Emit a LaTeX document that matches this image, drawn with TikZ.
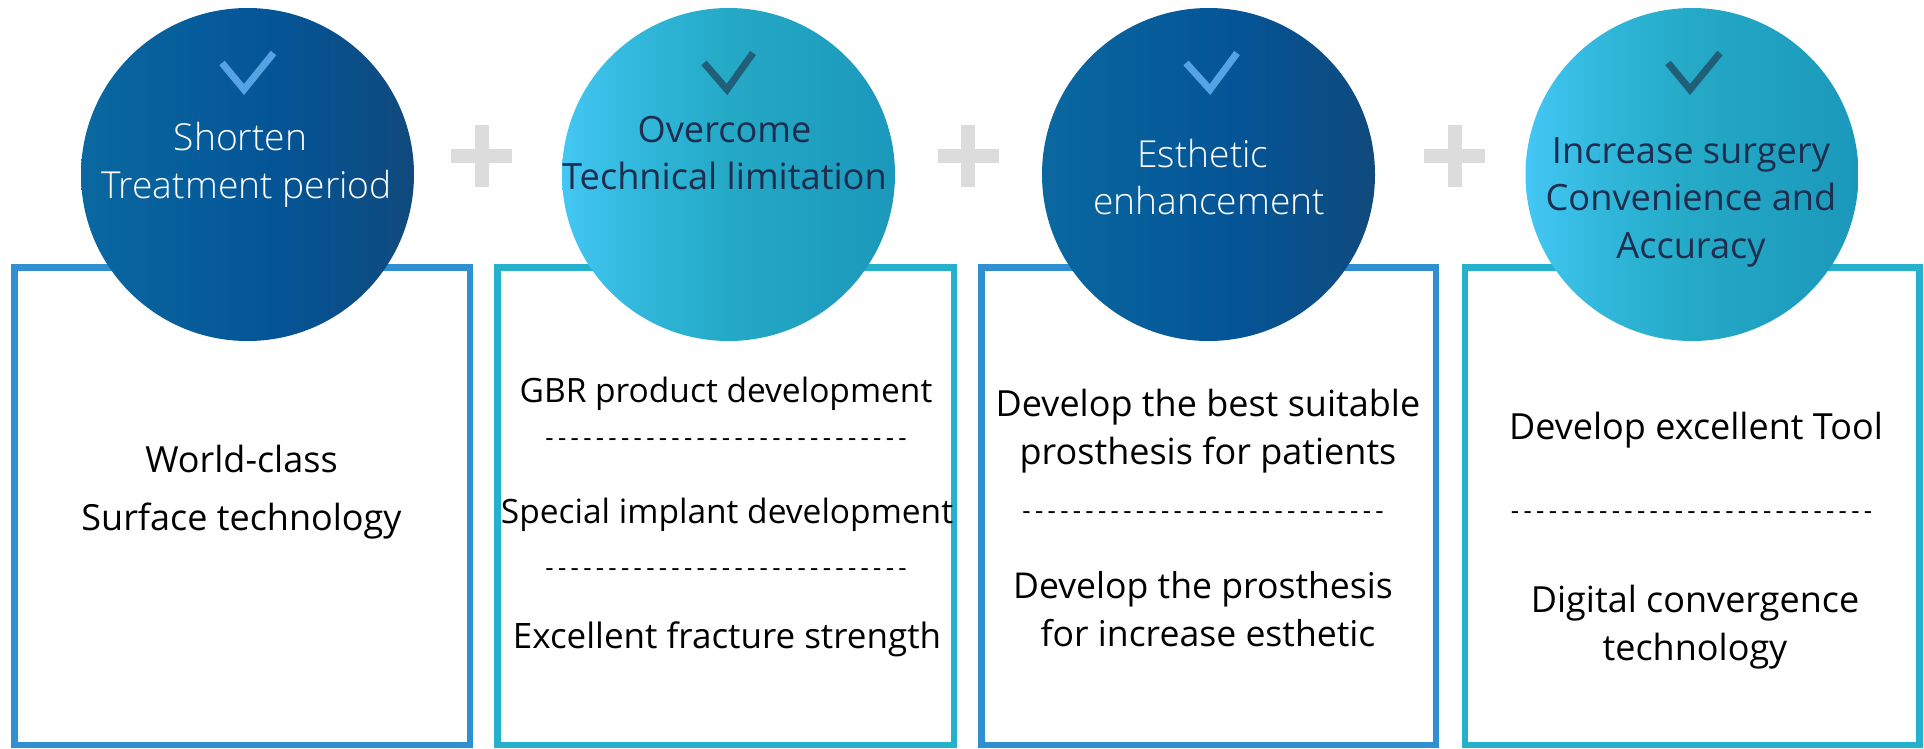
\documentclass[tikz,border=0pt]{standalone}
\usepackage{fontspec}
\setmainfont{Open Sans}
\newfontfamily\lightfont{Open Sans Light}
\usetikzlibrary{shapes.geometric}
\definecolor{boxblue}{HTML}{2F8FD0}
\definecolor{boxteal}{HTML}{25B1CC}
\definecolor{navytext}{HTML}{1F2D4F}
\definecolor{plusgrey}{HTML}{DCDCDC}
\definecolor{checklight}{HTML}{55A3E3}
\definecolor{checkdark}{HTML}{215E78}
\definecolor{db1}{HTML}{0A68A0}
\definecolor{db2}{HTML}{07609C}
\definecolor{db3}{HTML}{045496}
\definecolor{db4}{HTML}{104A7C}
\definecolor{dt1}{HTML}{44C7F4}
\definecolor{dt2}{HTML}{30B7DA}
\definecolor{dt3}{HTML}{24A9C6}
\definecolor{dt4}{HTML}{1B98BB}
\pgfdeclarehorizontalshading{discblueshade}{100bp}{color(0bp)=(db1); color(25bp)=(db1); color(37bp)=(db2); color(55bp)=(db3); color(75bp)=(db4); color(100bp)=(db4)}
\pgfdeclarehorizontalshading{disctealshade}{100bp}{color(0bp)=(dt1); color(25bp)=(dt1); color(37bp)=(dt2); color(50bp)=(dt3); color(75bp)=(dt4); color(100bp)=(dt4)}
\tikzset{
  panelblue/.style={draw=boxblue,line width=6.5pt,fill=white,inner sep=0pt,minimum height=477.5pt},
  panelteal/.style={draw=boxteal,line width=6.5pt,fill=white,inner sep=0pt,minimum height=477.5pt},
  discblue/.style={circle,inner sep=0pt,minimum size=333pt,shade,shading=discblueshade},
  discteal/.style={circle,inner sep=0pt,minimum size=333pt,shade,shading=disctealshade},
  checkmark/.style={line width=7pt,miter limit=10,line join=miter},
  plusbar/.style={fill=plusgrey,inner sep=0pt},
  plush/.style={plusbar,minimum width=61pt,minimum height=14pt},
  plusv/.style={plusbar,minimum width=14pt,minimum height=62pt},
  headwhite/.style={align=center,inner sep=0pt,text=white,font=\lightfont\fontsize{37.2}{47.5}\selectfont},
  headnavy/.style={align=center,inner sep=0pt,text=navytext,font=\fontsize{36.2}{47.5}\selectfont},
  bodytext/.style={align=center,inner sep=0pt,font=\fontsize{36}{48.5}\selectfont,text=black},
  bodynarrow/.style={align=center,inner sep=0pt,font=\fontsize{33.5}{47.5}\selectfont,text=black},
  dashtext/.style={inner sep=0pt,font=\fontsize{25.8}{28}\selectfont,text=black}
}
\newcommand{\dashline}{-\,-\,-\,-\,-\,-\,-\,-\,-\,-\,-\,-\,-\,-\,-\,-\,-\,-\,-\,-\,-\,-\,-\,-\,-\,-\,-\,-\,-}
\begin{document}
\begin{tikzpicture}[x=1pt,y=-1pt]
\useasboundingbox (0,0) rectangle (1924,748);
\fill[white] (0,0) rectangle (1924,748);
% panels
\node[panelblue,minimum width=455.5pt] (p1) at (242,506) {};
\node[panelteal,minimum width=456.5pt] (p2) at (725.5,506) {};
\node[panelblue,minimum width=454.5pt] (p3) at (1208.5,506) {};
\node[panelteal,minimum width=454.5pt] (p4) at (1692,506) {};
% discs
\node[discblue] (c1) at (247.5,174.5) {};
\node[discteal] (c2) at (728.5,174.5) {};
\node[discblue] (c3) at (1208.5,174.5) {};
\node[discteal] (c4) at (1692,174.5) {};
% checks
\draw[checkmark,checklight] (222,63) -- (244,89.5) -- (273.5,53);
\draw[checkmark,checkdark] (704,63) -- (727,89.5) -- (753,53);
\draw[checkmark,checklight] (1186,63) -- (1210,89.5) -- (1237,53);
\draw[checkmark,checkdark] (1668,63) -- (1690,89.5) -- (1720,53);
% plus
\node[plush] (pl1h) at (481.5,156) {};
\node[plusv] (pl1v) at (481.5,156) {};
\node[plush] (pl2h) at (968,156) {};
\node[plusv] (pl2v) at (968,156) {};
\node[plush] (pl3h) at (1454.5,156) {};
\node[plusv] (pl3v) at (1454.5,156) {};
% heads
\node[headwhite] (h1) at (246.5,165) {Shorten\hspace*{12pt}\\Treatment period};
\node[headnavy] (h2) at (724.5,153) {Overcome\\Technical limitation};
\node[headwhite] (h3) at (1209,177) {Esthetic\hspace*{12pt}\\enhancement};
\node[headnavy] (h4) at (1691,202) {Increase surgery\\Convenience and\\Accuracy};
% bodies
\node[bodytext,font=\fontsize{36}{58}\selectfont] (b1) at (241.5,492) {World-class\\Surface technology};
\node[bodynarrow] (b21) at (726,394) {GBR product development};
\node[dashtext] (d21) at (726,443) {\dashline};
\node[bodynarrow] (b22) at (727,515) {Special implant development};
\node[dashtext] (d22) at (726,573) {\dashline};
\node[bodynarrow,font=\fontsize{35}{47.5}\selectfont] (b23) at (727,639) {Excellent fracture strength};
\node[bodytext] (b31) at (1208,431) {Develop the best suitable\\prosthesis for patients};
\node[dashtext] (d31) at (1203,516) {\dashline};
\node[bodytext,font=\fontsize{35.6}{48.5}\selectfont] (b32) at (1206,609) {Develop the prosthesis\hspace*{6pt}\\\hspace*{4pt}for increase esthetic};
\node[bodytext] (b41) at (1696,430) {Develop excellent Tool};
\node[dashtext] (d41) at (1691.5,516) {\dashline};
\node[bodytext] (b42) at (1695,627) {Digital convergence\\technology};
\end{tikzpicture}
\end{document}
